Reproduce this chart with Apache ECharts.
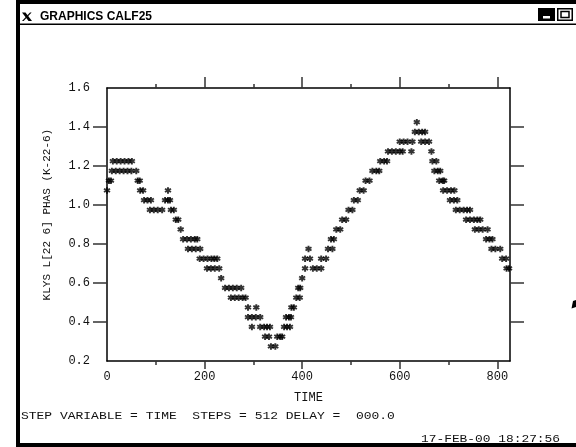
<!DOCTYPE html>
<html><head><meta charset="utf-8">
<script src="https://cdn.jsdelivr.net/npm/echarts@6.0.0/dist/echarts.min.js"></script>
<style>html,body{margin:0;padding:0;background:#fff}#c{width:576px;height:447px}</style>
</head><body><div id="c"></div>
<script>
// ---- data ----
const xMax = 826;
const xMajorTicks = [200, 400, 600, 800];
const xMinorTicks = [100, 300, 500, 700];
const xTickLabels = [0, 200, 400, 600, 800];
const yTickLabels = [0.2, 0.4, 0.6, 0.8, 1.0, 1.2, 1.4, 1.6];
const yTicks = [0.4, 0.6, 0.8, 1.0, 1.2, 1.4];

// [TIME, KLYS L[22 6] PHAS]
const descent = [
  [0,1.075],[4,1.125],[8,1.125],
  [10,1.175],[18,1.175],[26,1.175],[34,1.175],[42,1.175],[50,1.175],[60,1.175],
  [12,1.225],[20,1.225],[28,1.225],[36,1.225],[44,1.225],[51,1.225],
  [63,1.125],[67,1.125],[68,1.075],[74,1.075],
  [76,1.025],[83,1.025],[90,1.025],
  [88,0.975],[96,0.975],[104,0.975],[113,0.975],
  [119,1.025],[125,1.025],[129,1.025],[125,1.075],
  [131,0.975],[137,0.975],[141,0.925],[146,0.925],[151,0.875],
  [156,0.825],[164,0.825],[172,0.825],[180,0.825],[185,0.825],
  [166,0.775],[174,0.775],[182,0.775],[191,0.775],
  [190,0.725],[198,0.725],[206,0.725],[214,0.725],[220,0.725],[226,0.725],
  [205,0.675],[213,0.675],[221,0.675],[230,0.675],[234,0.625],
  [242,0.575],[250,0.575],[258,0.575],[266,0.575],[275,0.575],
  [254,0.525],[262,0.525],[270,0.525],[278,0.525],[284,0.525],
  [289,0.475],[306,0.475],
  [289,0.425],[297,0.425],[305,0.425],[314,0.425],
  [297,0.375],[314,0.375],[322,0.375],[328,0.375],[334,0.375],
  [324,0.325],[332,0.325],[336,0.275],[345,0.275]
];
const rise = [
  [349,0.325],[355,0.325],[359,0.325],
  [363,0.375],[369,0.375],[375,0.375],
  [367,0.425],[373,0.425],[377,0.425],
  [378,0.475],[383,0.475],[388,0.525],[395,0.525],
  [392,0.575],[396,0.575],[400,0.625],
  [406,0.675],[422,0.675],[430,0.675],[439,0.675],
  [406,0.725],[416,0.725],[439,0.725],[449,0.725],
  [413,0.775],[453,0.775],[462,0.775],
  [459,0.825],[465,0.825],[470,0.875],[478,0.875],
  [482,0.925],[490,0.925],[495,0.975],[503,0.975],
  [506,1.025],[514,1.025],[518,1.075],[526,1.075],
  [530,1.125],[538,1.125],[544,1.175],[552,1.175],[558,1.175],
  [560,1.225],[568,1.225],[574,1.225],
  [576,1.275],[584,1.275],[592,1.275],[600,1.275],[606,1.275],[624,1.275],
  [600,1.325],[608,1.325],[616,1.325],[626,1.325],
  [631,1.375],[639,1.375],[646,1.375],[652,1.375],[635,1.425]
];
const fall = [
  [644,1.325],[652,1.325],[660,1.325],[665,1.275],
  [667,1.225],[675,1.225],
  [671,1.175],[678,1.175],[683,1.175],
  [681,1.125],[688,1.125],[691,1.125],
  [689,1.075],[697,1.075],[705,1.075],[712,1.075],
  [703,1.025],[711,1.025],[718,1.025],
  [715,0.975],[723,0.975],[731,0.975],[738,0.975],[744,0.975],
  [736,0.925],[744,0.925],[752,0.925],[759,0.925],[765,0.925],
  [754,0.875],[762,0.875],[770,0.875],[780,0.875],
  [777,0.825],[784,0.825],[790,0.825],
  [788,0.775],[796,0.775],[806,0.775],
  [810,0.725],[818,0.725],[819,0.675],[824,0.675]
];

// ---- chart ----
const STAR = 'path://M36 0L64 0L64 100L36 100Z' +
  'M14 12.9L100 62.9L86 87.1L0 37.1Z' +
  'M86 12.9L100 37.1L14 87.1L0 62.9Z';
const MONO = 'Liberation Mono';
const tickStyle = {color: '#333', width: 1.5};
const boxLine = {show: true, onZero: false, lineStyle: {color: '#000', width: 1.5}};
const gridRect = {left: 107, right: 66, top: 88, bottom: 86};

const chart = echarts.init(document.getElementById('c'), null, {renderer: 'canvas'});
chart.setOption({
  animation: false,
  backgroundColor: '#fff',
  grid: [Object.assign({}, gridRect), Object.assign({}, gridRect)],
  xAxis: [
    {type: 'value', gridIndex: 0, position: 'bottom', min: 0, max: xMax,
     axisLine: boxLine,
     axisTick: {show: true, customValues: xMajorTicks, length: 8, lineStyle: tickStyle},
     axisLabel: {customValues: xTickLabels, margin: 10, fontFamily: MONO, fontSize: 12, color: '#111'},
     splitLine: {show: false},
     name: 'TIME', nameLocation: 'middle', nameGap: 31,
     nameTextStyle: {fontFamily: MONO, fontSize: 12, color: '#111'}},
    {type: 'value', gridIndex: 0, position: 'top', min: 0, max: xMax,
     axisLine: boxLine,
     axisTick: {show: true, customValues: xMajorTicks, length: 11, lineStyle: tickStyle},
     axisLabel: {show: false}, splitLine: {show: false}},
    {type: 'value', gridIndex: 1, position: 'bottom', min: 0, max: xMax,
     axisLine: {show: false},
     axisTick: {show: true, customValues: xMinorTicks, length: 4, lineStyle: tickStyle},
     axisLabel: {show: false}, splitLine: {show: false}},
    {type: 'value', gridIndex: 1, position: 'top', min: 0, max: xMax,
     axisLine: {show: false},
     axisTick: {show: true, customValues: xMinorTicks, length: 4, lineStyle: tickStyle},
     axisLabel: {show: false}, splitLine: {show: false}}
  ],
  yAxis: [
    {type: 'value', gridIndex: 0, position: 'left', min: 0.2, max: 1.6, interval: 0.2,
     axisLine: boxLine,
     axisTick: {show: true, customValues: yTicks, length: 14, lineStyle: tickStyle},
     axisLabel: {customValues: yTickLabels, margin: 17, fontFamily: MONO, fontSize: 12, color: '#111',
                 formatter: v => Number(v).toFixed(1)},
     splitLine: {show: false},
     name: '   KLYS L[22 6] PHAS (K-22-6)', nameLocation: 'middle', nameRotate: 90, nameGap: 54,
     nameTextStyle: {fontFamily: MONO, fontSize: 11, color: '#111'}},
    {type: 'value', gridIndex: 0, position: 'right', min: 0.2, max: 1.6, interval: 0.2,
     axisLine: boxLine,
     axisTick: {show: true, customValues: yTicks, length: 14, lineStyle: tickStyle},
     axisLabel: {show: false}, splitLine: {show: false}},
    {type: 'value', gridIndex: 1, min: 0.2, max: 1.6, show: false}
  ],
  series: [
    {type: 'scatter', xAxisIndex: 0, yAxisIndex: 0, data: descent.concat(rise, fall),
     symbol: STAR, symbolSize: [7, 6.5], itemStyle: {color: '#000'}, silent: true}
  ],
  graphic: [
    // window frame
    {type: 'rect', shape: {x: 16, y: 0, width: 560, height: 4}, style: {fill: '#000'}},
    {type: 'rect', shape: {x: 16, y: 0, width: 4, height: 447}, style: {fill: '#000'}},
    {type: 'rect', shape: {x: 16, y: 443, width: 560, height: 4}, style: {fill: '#000'}},
    {type: 'rect', shape: {x: 20, y: 23.5, width: 556, height: 1.5}, style: {fill: '#000'}},
    // X logo
    {type: 'polygon', shape: {points: [[22,12.5],[25.5,12.5],[32,21],[28.5,21]]}, style: {fill: '#000'}},
    {type: 'polygon', shape: {points: [[30,12.5],[31.6,12.5],[23.6,21],[22,21]]}, style: {fill: '#000'}},
    {type: 'text', x: 40, y: 16.5,
     style: {text: 'GRAPHICS CALF25', font: 'bold 12px "Liberation Sans"', fill: '#000',
             align: 'left', verticalAlign: 'middle', textAlign: 'left', textVerticalAlign: 'middle'}},
    // window buttons
    {type: 'rect', shape: {x: 538, y: 8, width: 17, height: 13}, style: {fill: '#000'}},
    {type: 'rect', shape: {x: 543, y: 16, width: 7, height: 2.5}, style: {fill: '#fff'}},
    {type: 'rect', shape: {x: 557, y: 8, width: 16, height: 13}, style: {fill: '#000'}},
    {type: 'rect', shape: {x: 558.5, y: 9.5, width: 13, height: 10}, style: {fill: '#fff'}},
    {type: 'rect', shape: {x: 561, y: 11.5, width: 8, height: 6}, style: {fill: '#fff', stroke: '#000', lineWidth: 1.5}},
    // fragment at right edge
    {type: 'polygon', shape: {points: [[573,301],[576,300],[576,307],[571.5,308.5]]}, style: {fill: '#000'}},
    // footer
    {type: 'text', x: 21, y: 416, scaleX: 1.18,
     style: {text: 'STEP VARIABLE = TIME  STEPS = 512 DELAY =  000.0', font: '11px "Liberation Mono"', fill: '#111',
             align: 'left', verticalAlign: 'middle', textAlign: 'left', textVerticalAlign: 'middle'}},
    {type: 'text', x: 421, y: 439.5, scaleX: 1.17,
     style: {text: '17-FEB-00 18:27:56', font: '11px "Liberation Mono"', fill: '#111',
             align: 'left', verticalAlign: 'middle', textAlign: 'left', textVerticalAlign: 'middle'}}
  ]
});
</script>
</body></html>
